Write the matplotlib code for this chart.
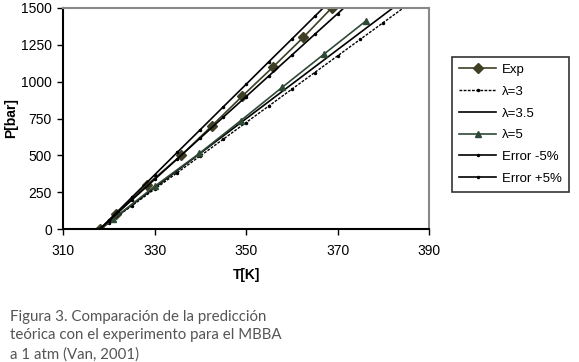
import matplotlib.pyplot as plt

# Experimental data
t_exp = [318.1, 321.5, 328.3, 335.8, 342.5, 349.1, 355.9, 362.5, 368.7]
p_exp = [0, 100, 300, 500, 700, 900, 1100, 1300, 1500]

# lambda = 5 model points
t_l5 = [318.3, 321.0, 330.0, 339.8, 348.8, 357.9, 367.0, 376.2]
p_l5 = [0, 70, 290, 514, 735, 962, 1186, 1412]

# model curves on a common temperature grid
t_mod = [318, 320, 325, 330, 335, 340, 345, 350, 355, 360, 365, 370, 375, 380, 385]
p_l3 = [0, 45, 158, 271, 384, 497, 610, 723, 836, 949, 1062, 1175, 1288, 1401, 1514]
p_l35 = [0, 47, 164, 281, 398, 515, 632, 749, 866, 983, 1100, 1217, 1334, 1451, 1568]
p_em5 = [0, 56, 197, 337, 478, 618, 759, 899, 1040, 1180, 1321, 1461, 1602, 1742, 1883]
p_ep5 = [0, 61, 215, 368, 522, 675, 829, 982, 1136, 1289, 1443, 1596, 1750, 1903, 2057]

plt.rcParams['font.family'] = ['Liberation Sans', 'DejaVu Sans']

fig = plt.figure(figsize=(5.79, 3.62), dpi=100)
ax = fig.add_axes([0.109, 0.367, 0.632, 0.611])

ax.plot(t_exp, p_exp, color='#3f3f25', marker='D', markersize=5, lw=1.2, label='Exp')
ax.plot(t_mod, p_l3, color='black', ls=(0, (2, 1)), marker='.', markersize=3, lw=1.0, label='λ=3')
ax.plot(t_mod, p_l35, color='black', lw=1.2, label='λ=3.5')
ax.plot(t_l5, p_l5, color='#2e4a36', marker='^', markersize=5, lw=1.2, label='λ=5')
ax.plot(t_mod, p_em5, color='black', marker='.', markersize=3, lw=1.2, label='Error -5%')
ax.plot(t_mod, p_ep5, color='black', marker='.', markersize=3, lw=1.2, label='Error +5%')

ax.set_xlim(310, 390)
ax.set_ylim(0, 1500)
ax.set_xticks([310, 330, 350, 370, 390])
ax.set_yticks([0, 250, 500, 750, 1000, 1250, 1500])
ax.tick_params(direction='out', length=4, width=1, labelsize=10, pad=4)
ax.tick_params(axis='x', pad=7)

for s in ['top', 'right']:
    ax.spines[s].set_color('#888888')
    ax.spines[s].set_linewidth(1.5)
for s in ['left', 'bottom']:
    ax.spines[s].set_linewidth(1.5)
    ax.spines[s].set_color('black')

ax.set_xlabel('T[K]', fontsize=10, fontweight='bold', labelpad=7)
ax.set_ylabel('P[bar]', fontsize=10, fontweight='bold', labelpad=2)

leg = ax.legend(loc='upper left', bbox_to_anchor=(1.045, 0.81), fontsize=9.5,
                frameon=True, fancybox=False, edgecolor='black',
                handlelength=2.8, handletextpad=0.4, labelspacing=0.72, borderpad=0.55)
leg.get_frame().set_linewidth(1.2)

fig.text(0.017, 0.145, 'Figura 3. Comparación de la predicción\n'
         'teórica con el experimento para el MBBA\n'
         'a 1 atm (Van, 2001)',
         fontsize=10.8, family='Lato', color='#555555', va='top', linespacing=1.45)

fig.savefig('out.png', dpi=100, facecolor='white')
